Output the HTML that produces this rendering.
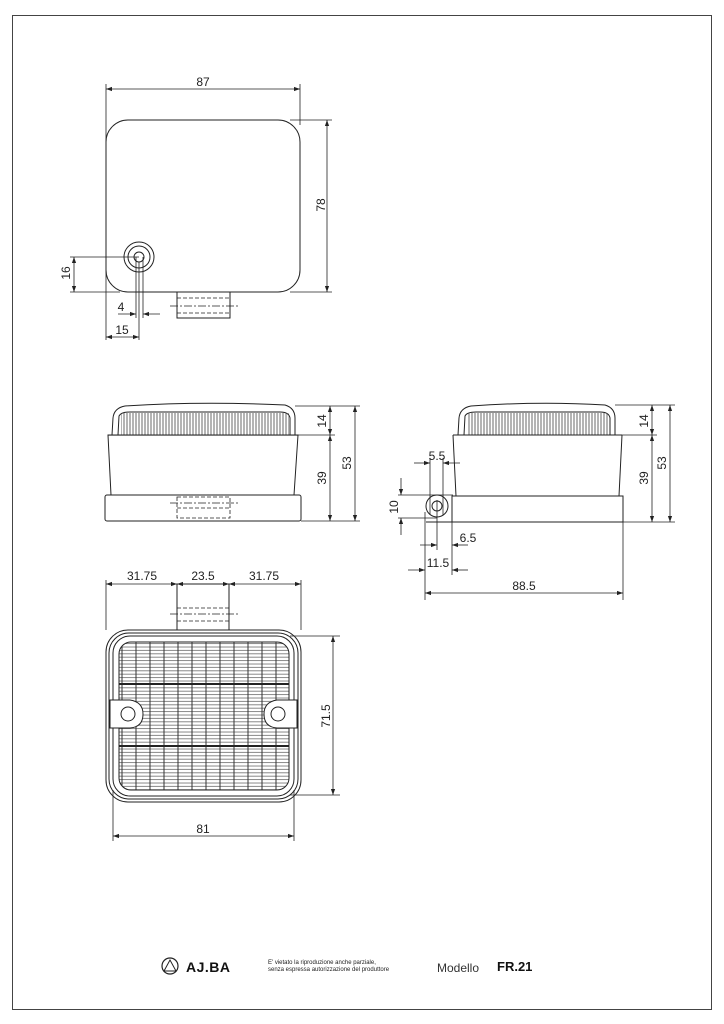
<!DOCTYPE html>
<html><head><meta charset="utf-8"><style>
html,body{margin:0;padding:0;background:#fff}
svg{display:block}
text{font-family:"Liberation Sans",sans-serif;font-size:12px;fill:#222}
</style></head><body>
<svg width="724" height="1024" viewBox="0 0 724 1024" xmlns="http://www.w3.org/2000/svg">
<defs>
<marker id="a" viewBox="0 0 10 10" refX="10" refY="5" markerWidth="9" markerHeight="6" orient="auto-start-reverse" markerUnits="userSpaceOnUse"><path d="M0,1.5 L10,5 L0,8.5 Z" fill="#222"/></marker>
<pattern id="hl" width="10" height="3.4" patternUnits="userSpaceOnUse"><line x1="0" y1="1" x2="10" y2="1" stroke="#555" stroke-width="0.7"/></pattern>
<pattern id="vr" width="3" height="10" patternUnits="userSpaceOnUse"><line x1="1" y1="0" x2="1" y2="10" stroke="#444" stroke-width="0.8"/></pattern>
<clipPath id="lens"><rect x="119" y="642" width="170" height="148" rx="12"/></clipPath>
</defs>
<g fill="none" stroke="#222" stroke-width="1">
<rect x="12.5" y="15.5" width="699" height="994" stroke="#444"/>

<!-- TOP VIEW -->
<rect x="106" y="120" width="194" height="172" rx="22"/>
<circle cx="139" cy="257" r="15"/><circle cx="139" cy="257" r="11"/><circle cx="139" cy="257" r="5"/>
<rect x="177" y="292" width="53" height="26"/>
<g stroke-dasharray="4,2" stroke-width="0.8"><line x1="177" y1="298" x2="230" y2="298"/><line x1="177" y1="313" x2="230" y2="313"/><line x1="170" y1="306" x2="240" y2="306" stroke-dasharray="8,2,2,2"/></g>
<g stroke-width="0.8">
<line x1="106" y1="84" x2="106" y2="340"/><line x1="300" y1="84" x2="300" y2="125"/>
<line x1="106" y1="89" x2="300" y2="89" marker-start="url(#a)" marker-end="url(#a)"/>
<line x1="290" y1="120" x2="332" y2="120"/><line x1="290" y1="292" x2="332" y2="292"/>
<line x1="327" y1="120" x2="327" y2="292" marker-start="url(#a)" marker-end="url(#a)"/>
<line x1="70" y1="257" x2="139" y2="257"/><line x1="70" y1="292" x2="120" y2="292"/>
<line x1="74" y1="257" x2="74" y2="292" marker-start="url(#a)" marker-end="url(#a)"/>
<line x1="136" y1="257" x2="136" y2="318"/><line x1="143" y1="257" x2="143" y2="318"/>
<line x1="139" y1="262" x2="139" y2="340"/>
<line x1="118" y1="314" x2="136" y2="314" marker-end="url(#a)"/>
<line x1="160" y1="314" x2="143" y2="314" marker-end="url(#a)"/>
<line x1="106" y1="337" x2="139" y2="337" marker-start="url(#a)" marker-end="url(#a)"/>
</g>

<!-- SIDE VIEW 1 -->
<path d="M112,435 L113,418 Q114,408 125,406 Q200,401 285,405 Q295,408 295,418 L295,435"/>
<path d="M118,435 L119,416 Q121,412 130,412 L280,412 Q289,412 290,418 L290,435"/>
<rect x="121" y="413" width="168" height="22" fill="url(#vr)" stroke="none"/>
<rect x="108" y="435" width="190" height="0.1"/>
<path d="M108,435 L111,495 M298,435 L294,495"/>
<rect x="105" y="495" width="196" height="26" rx="2"/>
<g stroke-dasharray="4,2" stroke-width="0.8"><rect x="177" y="497" width="53" height="21"/><line x1="177" y1="508" x2="230" y2="508"/><line x1="170" y1="503" x2="240" y2="503" stroke-dasharray="8,2,2,2"/></g>
<g stroke-width="0.8">
<line x1="295" y1="406" x2="360" y2="406"/><line x1="298" y1="435" x2="335" y2="435"/><line x1="301" y1="521" x2="360" y2="521"/>
<line x1="330" y1="406" x2="330" y2="435" marker-start="url(#a)" marker-end="url(#a)"/>
<line x1="330" y1="435" x2="330" y2="521" marker-start="url(#a)" marker-end="url(#a)"/>
<line x1="355" y1="406" x2="355" y2="521" marker-start="url(#a)" marker-end="url(#a)"/>
</g>

<!-- SIDE VIEW 2 -->
<path d="M458,435 L459,418 Q460,408 471,406 Q540,401 605,405 Q615,408 615,418 L615,435"/>
<path d="M464,435 L465,416 Q467,412 476,412 L600,412 Q609,412 610,418 L610,435"/>
<rect x="467" y="413" width="142" height="22" fill="url(#vr)" stroke="none"/>
<line x1="453" y1="435" x2="622" y2="435"/>
<path d="M453,435 L456,496 M622,435 L619,496"/>
<rect x="452" y="496" width="171" height="26"/>
<circle cx="437" cy="506" r="11"/><circle cx="437" cy="506" r="5"/>
<path d="M426,522 L452,522"/>
<g stroke-width="0.8">
<line x1="615" y1="405" x2="675" y2="405"/><line x1="622" y1="435" x2="657" y2="435"/><line x1="623" y1="522" x2="675" y2="522"/>
<line x1="652" y1="405" x2="652" y2="435" marker-start="url(#a)" marker-end="url(#a)"/>
<line x1="652" y1="435" x2="652" y2="522" marker-start="url(#a)" marker-end="url(#a)"/>
<line x1="670" y1="405" x2="670" y2="522" marker-start="url(#a)" marker-end="url(#a)"/>
<line x1="430" y1="458" x2="430" y2="515"/><line x1="443" y1="458" x2="443" y2="515"/>
<line x1="414" y1="463" x2="430" y2="463" marker-end="url(#a)"/><line x1="460" y1="463" x2="443" y2="463" marker-end="url(#a)"/>
<line x1="398" y1="495" x2="453" y2="495"/><line x1="398" y1="518" x2="437" y2="518"/>
<line x1="401" y1="478" x2="401" y2="495" marker-end="url(#a)"/><line x1="401" y1="535" x2="401" y2="518" marker-end="url(#a)"/>
<line x1="437" y1="500" x2="437" y2="550"/><line x1="452" y1="522" x2="452" y2="575"/>
<line x1="420" y1="545" x2="437" y2="545" marker-end="url(#a)"/><line x1="468" y1="545" x2="452" y2="545" marker-end="url(#a)"/>
<line x1="425" y1="512" x2="425" y2="600"/><line x1="623" y1="522" x2="623" y2="600"/>
<line x1="408" y1="570" x2="425" y2="570" marker-end="url(#a)"/><line x1="468" y1="570" x2="452" y2="570" marker-end="url(#a)"/>
<line x1="425" y1="593" x2="623" y2="593" marker-start="url(#a)" marker-end="url(#a)"/>
</g>

<!-- BOTTOM VIEW -->
<rect x="177" y="584" width="52" height="46"/>
<g stroke-dasharray="4,2" stroke-width="0.8"><line x1="177" y1="608" x2="229" y2="608"/><line x1="177" y1="621" x2="229" y2="621"/><line x1="170" y1="614" x2="240" y2="614" stroke-dasharray="8,2,2,2"/></g>
<rect x="106" y="630" width="195" height="172" rx="22"/>
<rect x="109" y="633" width="189" height="166" rx="20"/>
<rect x="113" y="636" width="181" height="160" rx="17"/>
<g clip-path="url(#lens)">
<rect x="119" y="642" width="170" height="148" fill="url(#hl)" stroke="none"/>
<g stroke="#333" stroke-width="1">
<line x1="122" y1="642" x2="122" y2="790"/><line x1="136" y1="642" x2="136" y2="790"/><line x1="150" y1="642" x2="150" y2="790"/><line x1="164" y1="642" x2="164" y2="790"/><line x1="178" y1="642" x2="178" y2="790"/><line x1="192" y1="642" x2="192" y2="790"/><line x1="206" y1="642" x2="206" y2="790"/><line x1="220" y1="642" x2="220" y2="790"/><line x1="234" y1="642" x2="234" y2="790"/><line x1="248" y1="642" x2="248" y2="790"/><line x1="262" y1="642" x2="262" y2="790"/><line x1="276" y1="642" x2="276" y2="790"/>
</g>
<line x1="119" y1="684" x2="289" y2="684" stroke-width="2"/>
<line x1="119" y1="746" x2="289" y2="746" stroke-width="2"/>
</g>
<rect x="119" y="642" width="170" height="148" rx="12"/>
<path d="M110,700 L130,700 Q143,702 143,714 Q143,727 130,728 L110,728 Z" fill="#fff"/>
<circle cx="128" cy="714" r="7" fill="#fff"/>
<path d="M297,700 L277,700 Q264,702 264,714 Q264,727 277,728 L297,728 Z" fill="#fff"/>
<circle cx="278" cy="714" r="7" fill="#fff"/>
<g stroke-width="0.8">
<line x1="106" y1="580" x2="106" y2="630"/><line x1="301" y1="580" x2="301" y2="630"/>
<line x1="106" y1="584" x2="177" y2="584" marker-start="url(#a)" marker-end="url(#a)"/>
<line x1="177" y1="584" x2="229" y2="584" marker-start="url(#a)" marker-end="url(#a)"/>
<line x1="229" y1="584" x2="301" y2="584" marker-start="url(#a)" marker-end="url(#a)"/>
<line x1="290" y1="636" x2="340" y2="636"/><line x1="290" y1="795" x2="340" y2="795"/>
<line x1="333" y1="636" x2="333" y2="795" marker-start="url(#a)" marker-end="url(#a)"/>
<line x1="113" y1="790" x2="113" y2="841"/><line x1="294" y1="790" x2="294" y2="841"/>
<line x1="113" y1="836" x2="294" y2="836" marker-start="url(#a)" marker-end="url(#a)"/>
</g>

<!-- footer logo -->
<circle cx="170" cy="966" r="8" stroke-width="1.2"/>
<path d="M164,971 L170,960 L176,971 Z" stroke-width="1"/>
</g>

<!-- dimension texts -->
<text x="203" y="86" text-anchor="middle">87</text>
<text transform="translate(325,205) rotate(-90)" text-anchor="middle">78</text>
<text transform="translate(70,273) rotate(-90)" text-anchor="middle">16</text>
<text x="121" y="311" text-anchor="middle">4</text>
<text x="122" y="334" text-anchor="middle">15</text>
<text transform="translate(326,421) rotate(-90)" text-anchor="middle">14</text>
<text transform="translate(326,478) rotate(-90)" text-anchor="middle">39</text>
<text transform="translate(351,463) rotate(-90)" text-anchor="middle">53</text>
<text transform="translate(648,421) rotate(-90)" text-anchor="middle">14</text>
<text transform="translate(648,478) rotate(-90)" text-anchor="middle">39</text>
<text transform="translate(666,463) rotate(-90)" text-anchor="middle">53</text>
<text x="437" y="460" text-anchor="middle">5.5</text>
<text transform="translate(398,507) rotate(-90)" text-anchor="middle">10</text>
<text x="468" y="542" text-anchor="middle">6.5</text>
<text x="438" y="567" text-anchor="middle">11.5</text>
<text x="524" y="590" text-anchor="middle">88.5</text>
<text x="142" y="580" text-anchor="middle">31.75</text>
<text x="203" y="580" text-anchor="middle">23.5</text>
<text x="264" y="580" text-anchor="middle">31.75</text>
<text transform="translate(330,716) rotate(-90)" text-anchor="middle">71.5</text>
<text x="203" y="833" text-anchor="middle">81</text>

<!-- footer -->
<text x="186" y="972" style="font-size:14px;font-weight:bold;fill:#111;letter-spacing:0.5px">AJ.BA</text>
<text x="268" y="964" style="font-size:6px;fill:#222">E' vietato la riproduzione anche parziale,</text>
<text x="268" y="971" style="font-size:6px;fill:#222">senza espressa autorizzazione del produttore</text>
<text x="437" y="972" style="font-size:12px;fill:#333">Modello</text>
<text x="497" y="971" style="font-size:13px;font-weight:bold;fill:#111">FR.21</text>
</svg>
</body></html>
